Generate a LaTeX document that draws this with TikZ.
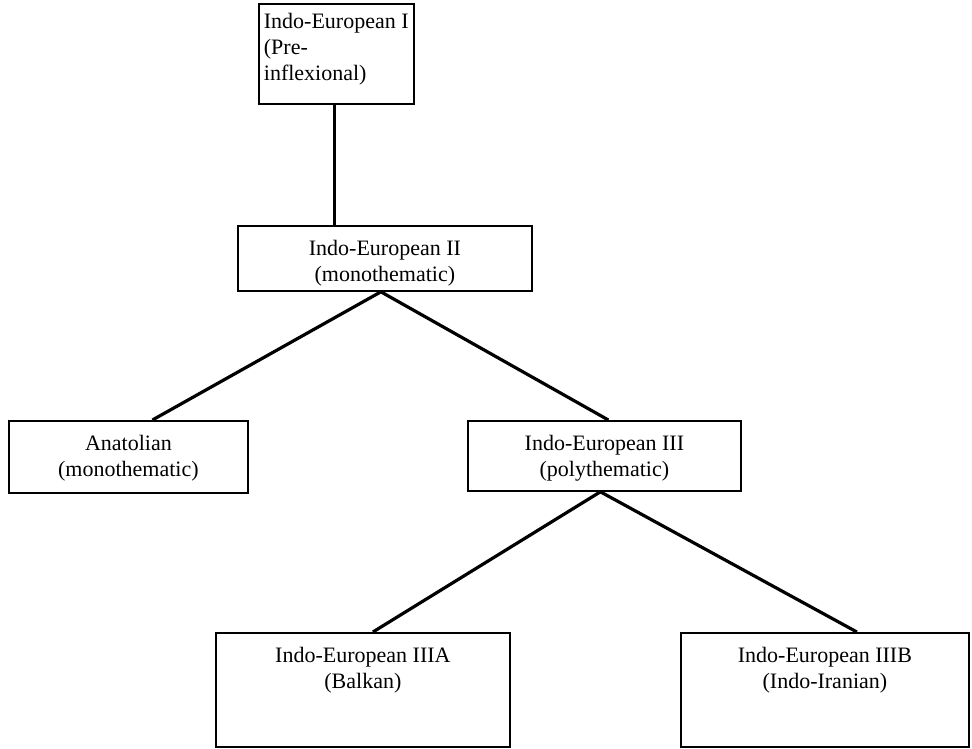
\documentclass[tikz,border=0pt]{standalone}
\usepackage{fontspec}
\setmainfont{Liberation Serif}
\usetikzlibrary{positioning,calc}

% box contents: width, height, text (first line pushed down by a strut)
\newcommand{\famtext}[3]{\parbox[c][#2][t]{#1}{\centering\rule{0pt}{30pt}#3}}
\newcommand{\famtextl}[3]{\parbox[c][#2][t]{#1}{\raggedright\leftskip=5pt\rule{0pt}{25pt}#3}}

\begin{document}
\begin{tikzpicture}[x=1pt, y=-1pt,
    famnode/.style={draw, line width=1.8pt, inner sep=0pt, anchor=north west,
      font=\fontsize{22}{26}\selectfont},
    branch/.style={line width=3.2pt}]
  \useasboundingbox (0,0) rectangle (972,748);
  \node[famnode] (IEone) at (258,3) {\famtextl{155pt}{100pt}{Indo-European I\\(Pre-\\inflexional)}};
  \node[famnode] (IEtwo) at (237,225) {\famtext{294pt}{65pt}{Indo-European II\\(monothematic)}};
  \node[famnode] (Anat) at (8,420) {\famtext{239pt}{72pt}{Anatolian\\(monothematic)}};
  \node[famnode] (IEthree) at (467,420) {\famtext{273pt}{70pt}{Indo-European III\\(polythematic)}};
  \node[famnode] (IEthreeA) at (215,632) {\famtext{294pt}{114pt}{Indo-European IIIA\\(Balkan)}};
  \node[famnode] (IEthreeB) at (680,632) {\famtext{288pt}{114pt}{Indo-European IIIB\\(Indo-Iranian)}};
  \draw[branch] ([xshift=-2pt]IEone.south) -- ([xshift=-2pt]IEone.south |- IEtwo.north);
  \draw[branch] ([xshift=-4pt]IEtwo.south) -- ([xshift=24pt]Anat.north);
  \draw[branch] ([xshift=-4pt]IEtwo.south) -- ([xshift=4pt]IEthree.north);
  \draw[branch] ([xshift=-4pt]IEthree.south) -- ([xshift=10pt]IEthreeA.north);
  \draw[branch] ([xshift=-4pt]IEthree.south) -- ([xshift=32pt]IEthreeB.north);
\end{tikzpicture}
\end{document}
